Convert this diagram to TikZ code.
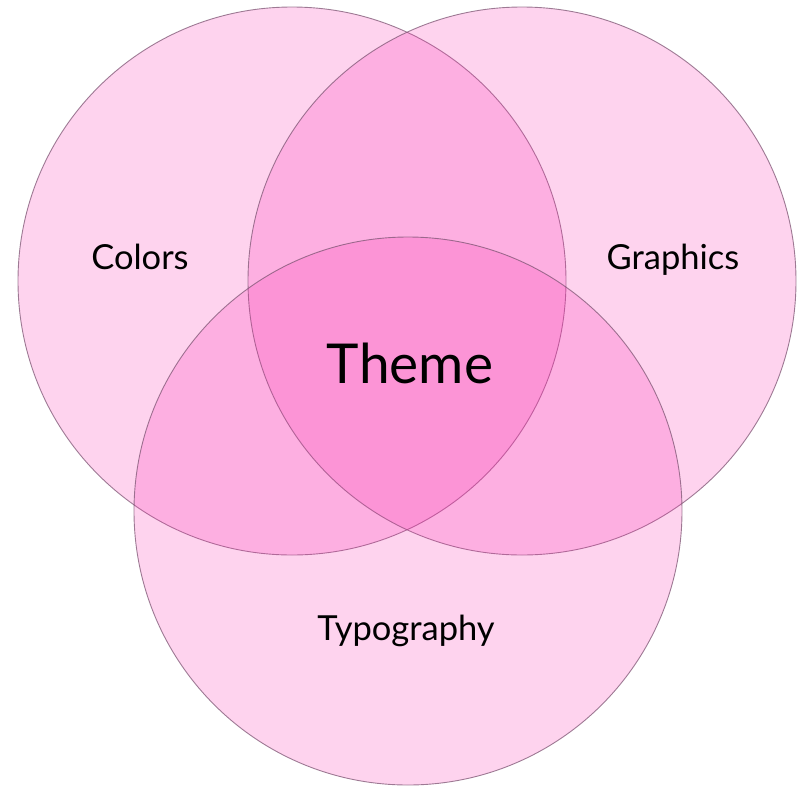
\documentclass[tikz,border=0pt]{standalone}
\usepackage{fontspec}
\setmainfont{Lato}
\begin{document}
\begin{tikzpicture}[x=1pt,y=-1pt,
  venn/.style={fill={rgb,255:red,250;green,45;blue,175},fill opacity=0.21,draw={rgb,255:red,125;green,85;blue,115},draw opacity=0.75,line width=0.9pt},
  lbl/.style={font=\fontsize{34.5}{40}\selectfont,text=black,anchor=base}]
\useasboundingbox (0,0) rectangle (801,785);
\path[venn] (292,281) circle[radius=274];
\path[venn] (522,281) circle[radius=274];
\path[venn] (408,511) circle[radius=274];
\node[lbl] (colors) at (140,269) {Colors};
\node[lbl] (graphics) at (673,269) {Graphics};
\node[lbl] (typo) at (406,640) {Typography};
\node[font=\fontsize{55}{64}\selectfont,anchor=base] (theme) at (410,383) {Theme};
\end{tikzpicture}
\end{document}
